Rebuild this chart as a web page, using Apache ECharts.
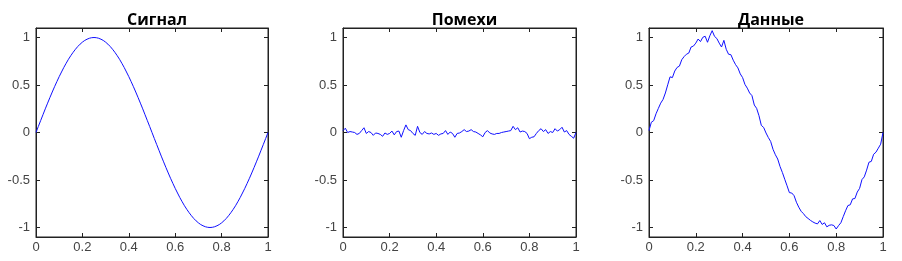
<!DOCTYPE html>
<html><head><meta charset="utf-8">
<script src="https://cdn.jsdelivr.net/npm/echarts@6/dist/echarts.min.js"></script>
<style>html,body{margin:0;padding:0;background:#fff}#c{width:902px;height:261px}</style>
</head><body><div id="c"></div>
<script>
const titles = ['Сигнал', 'Помехи', 'Данные'];
const xTicks = [0, 0.2, 0.4, 0.6, 0.8, 1];
const yTicks = [-1, -0.5, 0, 0.5, 1];
const xValues = [0,0.01,0.02,0.03,0.04,0.05,0.06,0.07,0.08,0.09,0.1,0.11,0.12,0.13,0.14,0.15,0.16,0.17,0.18,0.19,0.2,0.21,0.22,0.23,0.24,0.25,0.26,0.27,0.28,0.29,0.3,0.31,0.32,0.33,0.34,0.35,0.36,0.37,0.38,0.39,0.4,0.41,0.42,0.43,0.44,0.45,0.46,0.47,0.48,0.49,0.5,0.51,0.52,0.53,0.54,0.55,0.56,0.57,0.58,0.59,0.6,0.61,0.62,0.63,0.64,0.65,0.66,0.67,0.68,0.69,0.7,0.71,0.72,0.73,0.74,0.75,0.76,0.77,0.78,0.79,0.8,0.81,0.82,0.83,0.84,0.85,0.86,0.87,0.88,0.89,0.9,0.91,0.92,0.93,0.94,0.95,0.96,0.97,0.98,0.99,1];
const signal = [0,0.063,0.125,0.187,0.249,0.309,0.368,0.426,0.482,0.536,0.588,0.637,0.685,0.729,0.771,0.809,0.844,0.876,0.905,0.930,0.951,0.969,0.982,0.992,0.998,1.000,0.998,0.992,0.982,0.969,0.951,0.930,0.905,0.876,0.844,0.809,0.771,0.729,0.685,0.637,0.588,0.536,0.482,0.426,0.368,0.309,0.249,0.187,0.125,0.063,0,-0.063,-0.125,-0.187,-0.249,-0.309,-0.368,-0.426,-0.482,-0.536,-0.588,-0.637,-0.685,-0.729,-0.771,-0.809,-0.844,-0.876,-0.905,-0.930,-0.951,-0.969,-0.982,-0.992,-0.998,-1.000,-0.998,-0.992,-0.982,-0.969,-0.951,-0.930,-0.905,-0.876,-0.844,-0.809,-0.771,-0.729,-0.685,-0.637,-0.588,-0.536,-0.482,-0.426,-0.368,-0.309,-0.249,-0.187,-0.125,-0.063,0];
const noise = [0.02,0.045,0,0.01,0.005,0,-0.02,-0.01,0.02,0.05,-0.01,0.01,0,-0.03,-0.005,-0.01,-0.02,-0.04,-0.005,-0.02,-0.01,0.015,-0.025,0.01,0.015,-0.05,0.02,0.08,0.03,0.02,-0.01,-0.03,0.065,0,-0.02,0.01,-0.01,-0.015,-0.005,-0.02,-0.01,-0.03,-0.015,-0.01,0.02,-0.02,0.005,-0.01,-0.05,-0.01,-0.005,0.01,0.03,0.01,0.015,0.03,0.01,0.005,-0.01,-0.025,-0.045,0,0.02,-0.005,-0.015,-0.02,-0.01,-0.01,0,0.005,0.01,0.015,0.02,0.065,0.03,0.05,0.005,0.015,0.01,-0.01,-0.065,-0.05,-0.045,-0.01,0.02,0.04,0.01,0.03,-0.01,0.01,0,0.04,0.015,0.03,0.055,0.005,0.02,-0.02,-0.04,-0.06,0];
const dataVals = [0.02,0.108,0.125,0.197,0.254,0.309,0.348,0.416,0.502,0.586,0.578,0.647,0.685,0.699,0.766,0.799,0.824,0.836,0.900,0.910,0.941,0.984,0.957,1.002,1.013,0.950,1.018,1.072,1.012,0.989,0.941,0.900,0.970,0.876,0.824,0.819,0.761,0.714,0.680,0.617,0.578,0.506,0.467,0.416,0.388,0.289,0.254,0.177,0.075,0.053,-0.005,-0.053,-0.095,-0.177,-0.234,-0.279,-0.358,-0.421,-0.492,-0.561,-0.633,-0.637,-0.665,-0.734,-0.786,-0.829,-0.854,-0.886,-0.905,-0.925,-0.941,-0.954,-0.962,-0.927,-0.968,-0.950,-0.993,-0.977,-0.972,-0.979,-1.016,-0.980,-0.950,-0.886,-0.824,-0.769,-0.761,-0.699,-0.695,-0.627,-0.588,-0.496,-0.467,-0.396,-0.313,-0.304,-0.229,-0.207,-0.165,-0.123,0.0];

const seriesData = [signal, noise, dataVals];
const grids = [
  {left: 36, width: 232},
  {left: 343, width: 233},
  {left: 649, width: 234}
];
const axisColor = '#222';
const labelColor = '#444';
const font = 'Liberation Sans, Arial, sans-serif';

const option = {
  animation: false,
  title: titles.map((t, i) => ({
    text: t,
    left: grids[i].left + grids[i].width / 2,
    textAlign: 'center',
    top: 7,
    textStyle: {fontSize: 16, fontWeight: 'bold', color: '#000', fontFamily: 'Open Sans, Liberation Sans, sans-serif'}
  })),
  grid: grids.map(g => ({left: g.left, width: g.width, top: 28, bottom: 24, show: true, borderColor: axisColor, borderWidth: 1, backgroundColor: '#fff'})),
  xAxis: [],
  yAxis: [],
  series: []
};
for (let i = 0; i < 3; i++) {
  const tickStyle = {show: true, inside: true, length: 4, lineStyle: {color: axisColor}};
  const line = {show: true, onZero: false, lineStyle: {color: axisColor}};
  option.xAxis.push({
    type: 'value', gridIndex: i, min: 0, max: 1, position: 'bottom',
    axisLine: line,
    axisTick: Object.assign({customValues: xTicks}, tickStyle),
    axisLabel: {customValues: xTicks, color: labelColor, fontSize: 13, fontFamily: font, margin: 4, formatter: v => String(v)},
    splitLine: {show: false}
  });
  option.xAxis.push({
    type: 'value', gridIndex: i, min: 0, max: 1, position: 'top',
    axisLine: line,
    axisTick: Object.assign({customValues: xTicks}, tickStyle),
    axisLabel: {show: false},
    splitLine: {show: false}
  });
  option.yAxis.push({
    type: 'value', gridIndex: i, min: -1.1, max: 1.1, position: 'left',
    axisLine: line,
    axisTick: Object.assign({customValues: yTicks}, tickStyle),
    axisLabel: {customValues: yTicks, color: labelColor, fontSize: 13, fontFamily: font, margin: 6, formatter: v => String(v)},
    splitLine: {show: false}
  });
  option.yAxis.push({
    type: 'value', gridIndex: i, min: -1.1, max: 1.1, position: 'right',
    axisLine: line,
    axisTick: Object.assign({customValues: yTicks}, tickStyle),
    axisLabel: {show: false},
    splitLine: {show: false}
  });
  option.series.push({
    type: 'line', xAxisIndex: i * 2, yAxisIndex: i * 2,
    data: xValues.map((x, k) => [x, seriesData[i][k]]),
    showSymbol: false, symbol: 'none',
    lineStyle: {color: '#1010ff', width: 1},
    z: 3
  });
}
const chart = echarts.init(document.getElementById('c'));
chart.setOption(option);
</script></body></html>
